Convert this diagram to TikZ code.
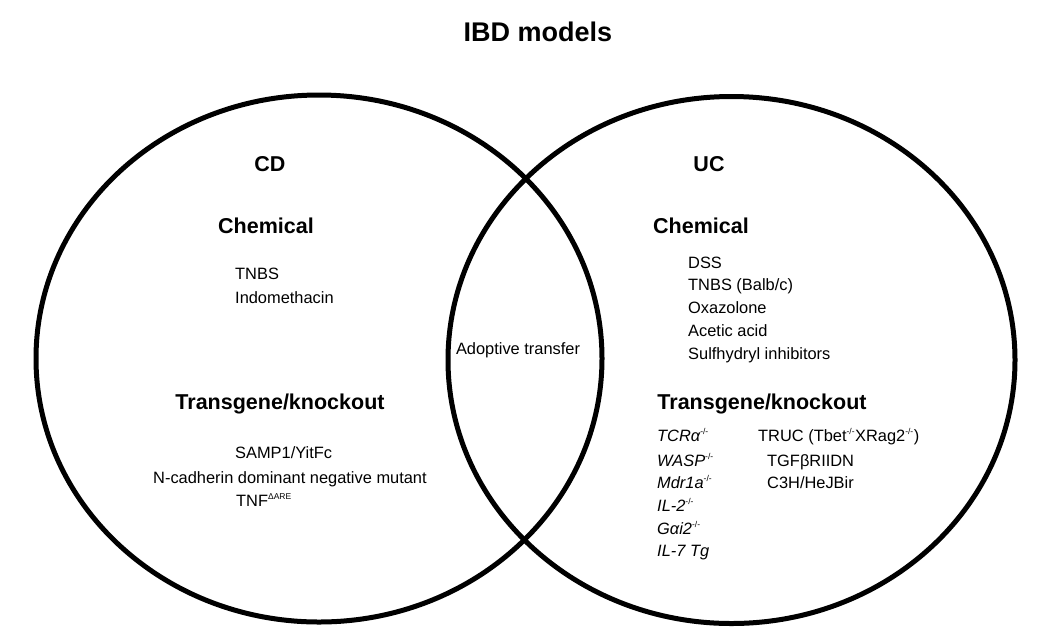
\documentclass[tikz,border=0pt]{standalone}
\usepackage{fontspec}
\setmainfont{Liberation Sans}
\newcommand{\ko}{\textsuperscript{\upshape\fontsize{8.5}{9}\selectfont -/-}}
\begin{document}
\begin{tikzpicture}[x=1pt,y=-1pt,
    head/.style={font=\fontsize{21.5}{24}\selectfont\bfseries, inner sep=0pt, anchor=base},
    item/.style={font=\fontsize{16.4}{18}\selectfont, inner sep=0pt, anchor=base west},
    gene/.style={item, font=\fontsize{16.4}{18}\selectfont\itshape},
    ring/.style={line width=5pt}]
    \useasboundingbox (0,0) rectangle (1047,633);
    \draw[ring] (319,358.5) ellipse [x radius=283, y radius=263.5];
    \draw[ring] (731.5,360) ellipse [x radius=283.5, y radius=263.5];
    \node[head, font=\fontsize{27}{30}\selectfont\bfseries] (title) at (538,41) {IBD models};
    % CD side
    \node[head] (cd) at (270,171) {CD};
    \node[head] (cdchem) at (266,233) {Chemical};
    \node[item] (tnbs) at (235,279) {TNBS};
    \node[item] (indo) at (235,303) {Indomethacin};
    \node[head] (cdtg) at (280,409) {Transgene/knockout};
    \node[item] (samp) at (235,458) {SAMP1/YitFc};
    \node[item] (ncad) at (153,483) {N-cadherin dominant negative mutant};
    \node[item] (tnf) at (236,506) {TNF\textsuperscript{\fontsize{8.5}{9}\selectfont ΔARE}};
    % overlap
    \node[item, anchor=base] (adopt) at (518,354) {Adoptive transfer};
    % UC side
    \node[head] (uc) at (709,171) {UC};
    \node[head] (ucchem) at (701,233) {Chemical};
    \node[item] (dss) at (688,268) {DSS};
    \node[item] (tnbsb) at (688,290) {TNBS (Balb/c)};
    \node[item] (oxa) at (688,313) {Oxazolone};
    \node[item] (acetic) at (688,336) {Acetic acid};
    \node[item] (sulf) at (688,359) {Sulfhydryl inhibitors};
    \node[head] (uctg) at (762,409) {Transgene/knockout};
    \node[gene] (tcr) at (657,441) {TCRα\ko};
    \node[gene] (wasp) at (657,466) {WASP\ko};
    \node[gene] (mdr) at (657,488) {Mdr1a\ko};
    \node[gene] (il2) at (657,511) {IL-2\ko};
    \node[gene] (gai) at (657,534) {Gαi2\ko};
    \node[gene] (il7) at (657,556) {IL-7 Tg};
    \node[item] (truc) at (758,441) {TRUC (Tbet\ko XRag2\ko)};
    \node[item] (tgf) at (767,466) {TGFβRIIDN};
    \node[item] (c3h) at (767,488) {C3H/HeJBir};
\end{tikzpicture}
\end{document}
